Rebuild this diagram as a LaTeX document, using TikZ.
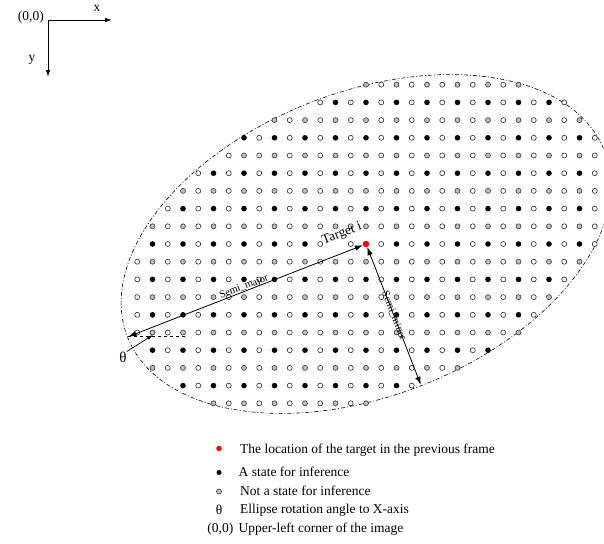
\documentclass[tikz,border=0pt]{standalone}
\usepackage{fontspec}
\setmainfont{Liberation Serif}
\usetikzlibrary{arrows.meta}
\begin{document}
\begin{tikzpicture}[x=1pt,y=-1pt,
  darr/.style={line width=0.8pt,{Latex[length=8pt,width=5.5pt]}-{Latex[length=8pt,width=5.5pt]}},
  axarr/.style={line width=0.8pt,-{Latex[length=7pt,width=4.5pt]}},
  ellstyle/.style={line width=0.6pt,dash pattern=on 4pt off 2pt on 1pt off 2pt},
  bdot/.style={fill=black},
  odot/.style={draw=black!85,line width=0.6pt,fill=white},
  gdot/.style={draw=black!80,line width=0.6pt,fill=black!25},
  lbl/.style={font=\fontsize{13.5}{16}\selectfont,inner sep=0pt},
  small/.style={font=\fontsize{10.5}{12}\selectfont,inner sep=0pt}
]
\useasboundingbox (0,0) rectangle (604,543);

% axes
\coordinate (O) at (48,20);
\coordinate (X) at (112,20);
\coordinate (Y) at (48,77);
\draw[axarr] (O) -- (X);
\draw[axarr] (O) -- (Y);
\node[lbl,anchor=east] (orig) at (44,17) {(0,0)};
\node[lbl] (xl) at (97,8) {x};
\node[lbl] (yl) at (32,60) {y};

% ellipse
\coordinate (C) at (366,244);
\draw[ellstyle,rotate around={21.3:(C)}] (C) ellipse [x radius=256, y radius=152];

% grid of states (row j: columns kmin..kmax)
\foreach \j/\kmin/\kmax in {-9/0/10,-8/-3/13,-7/-6/14,-6/-8/15,-5/-9/15,-4/-11/15,
  -3/-12/15,-2/-13/15,-1/-14/15,0/-14/15,1/-15/14,2/-15/13,3/-15/12,4/-15/11,
  5/-15/10,6/-14/8,7/-14/6,8/-12/3,9/-10/0}{
  \foreach \k in {\kmin,...,\kmax}{
    \pgfmathsetmacro\dxx{366+\k*15.25}
    \pgfmathsetmacro\dyy{244+\j*17.7}
    \pgfmathtruncatemacro\blk{and(iseven(\j+20),iseven(\k+20))}
    \pgfmathtruncatemacro\oddk{isodd(\k+20)}
    \pgfmathtruncatemacro\tgt{and(\j==0,\k==0)}
    \pgfmathtruncatemacro\hid{and(\j==0,\k==-2)}
    \ifnum\tgt=0
      \ifnum\hid=0
        \ifnum\blk=1
          \fill[bdot] (\dxx,\dyy) circle (2.8pt);
        \else
          \ifnum\oddk=1
            \draw[odot] (\dxx,\dyy) circle (2.5pt);
          \else
            \draw[gdot] (\dxx,\dyy) circle (2.5pt);
          \fi
        \fi
      \fi
    \fi
  }
}

% target, axes of the ellipse
\node[circle,fill=red,inner sep=0pt,minimum size=6.5pt] (T) at (C) {};
\coordinate (V) at (128.4,336.6);
\coordinate (B) at (420.8,384.7);
\coordinate (H) at (187,336.6);
\draw[darr] (V) -- (T) node[small,sloped,pos=0.5,above=-1pt] (smaj) {Semi\_major};
\draw[darr] (T) -- (B) node[small,sloped,pos=0.5] (smin) {Semi\_minor};
\draw[line width=0.7pt,dashed] (V) -- (H);
\node[lbl,rotate=21.3] (tl) at (342,234) {Target i};

% theta
\node[font=\fontsize{15}{16}\selectfont,inner sep=0pt] (th) at (123,357) {θ};
\coordinate (thtip) at (153,335);
\draw[line width=0.7pt,-{Latex[length=6pt,width=4pt]}] (th.north east) -- (thtip);

% legend
\node[circle,fill=red,inner sep=0pt,minimum size=5.5pt] (l1) at (219,448.5) {};
\node[circle,fill=black,inner sep=0pt,minimum size=5pt] (l2) at (219,472.5) {};
\node[circle,draw=black!80,fill=black!25,line width=0.6pt,inner sep=0pt,minimum size=5pt] (l3) at (219,491.5) {};
\node[lbl] (l4) at (219,510) {θ};
\node[lbl,anchor=east] (l5) at (233.5,529) {(0,0)};
\node[lbl,anchor=west] (t1) at (240,450) {The location of the target in the previous frame};
\node[lbl,anchor=west] (t2) at (238.5,471.5) {A state for inference};
\node[lbl,anchor=west] (t3) at (240,491) {Not a state for inference};
\node[lbl,anchor=west] (t4) at (240,510) {Ellipse rotation angle to X-axis};
\node[lbl,anchor=west] (t5) at (238.5,529) {Upper-left corner of the image};
\end{tikzpicture}
\end{document}
